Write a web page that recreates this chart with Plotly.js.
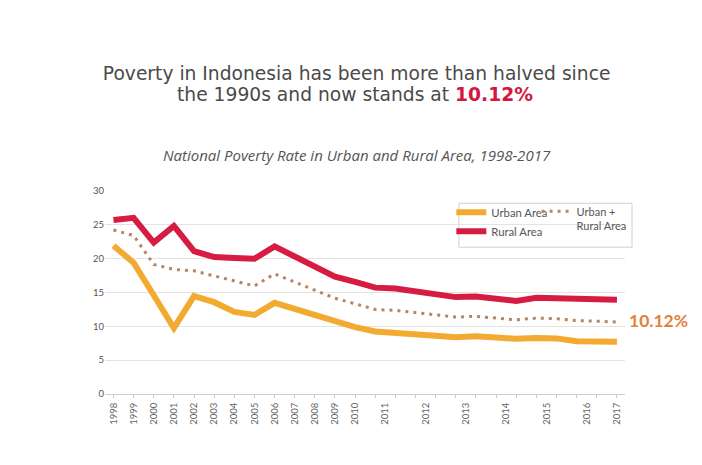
<!DOCTYPE html>
<html>
<head>
<meta charset="utf-8">
<script src="https://cdn.plot.ly/plotly-3.0.1.min.js"></script>
<style>html,body{margin:0;padding:0;background:#fff;}#chart{width:702px;height:465px;}</style>
</head>
<body>
<div id="chart"></div>
<script>
// Survey periods (annual until 2010, then March / September)
const periods = ['1998','1999','2000','2001','2002','2003','2004','2005','2006','2007','2008','2009','2010',
  'Mar 2011','Sep 2011','Mar 2012','Sep 2012','Mar 2013','Sep 2013','Mar 2014','Sep 2014',
  'Mar 2015','Sep 2015','Mar 2016','Sep 2016','Mar 2017'];
const urban = [21.92,19.41,14.60,9.76,14.46,13.57,12.13,11.68,13.47,12.52,11.65,10.72,9.87,
  9.23,9.09,8.78,8.60,8.39,8.52,8.34,8.16,8.29,8.22,7.79,7.73,7.72];
const rural = [25.72,26.03,22.38,24.84,21.10,20.23,20.11,19.98,21.81,20.37,18.93,17.35,16.56,
  15.72,15.59,15.12,14.70,14.32,14.42,14.17,13.76,14.21,14.09,14.11,13.96,13.93];
const total = [24.23,23.43,19.14,18.41,18.20,17.42,16.66,15.97,17.75,16.58,15.42,14.15,13.33,
  12.49,12.36,12.00,11.66,11.37,11.47,11.25,10.96,11.22,11.13,10.86,10.70,10.64];
const yearLabels = ['1998','1999','2000','2001','2002','2003','2004','2005','2006','2007','2008','2009','2010',
  '2011','2012','2013','2014','2015','2016','2017'];
const yTicks = [0,5,10,15,20,25,30];

const xIdx = periods.map((p, i) => i);
// tick label at the middle of the periods belonging to each year
const yearPos = yearLabels.map(y => {
  const ids = periods.map((p, i) => p.endsWith(y) ? i : -1).filter(i => i >= 0);
  return ids.reduce((a, b) => a + b, 0) / ids.length;
});

const traces = [
  {x: xIdx, y: rural, name: 'Rural Area', type: 'scatter', mode: 'lines',
   line: {color: '#d71c43', width: 6}, legend: 'legend', legendrank: 2, hoverinfo: 'skip'},
  {x: xIdx, y: urban, name: 'Urban Area', type: 'scatter', mode: 'lines',
   line: {color: '#f2aa30', width: 6}, legend: 'legend', legendrank: 1, hoverinfo: 'skip'},
  {x: xIdx, y: total, name: 'Urban +<br>Rural Area', type: 'scatter', mode: 'lines',
   line: {color: '#b9855f', width: 3, dash: '3px,5px'}, legend: 'legend2', hoverinfo: 'skip'}
];

const titleFont = {family: 'DejaVu Sans, sans-serif', size: 18.7, color: '#4a4a4a'};

const layout = {
  width: 702, height: 465,
  paper_bgcolor: '#fff', plot_bgcolor: '#fff',
  margin: {l: 105, r: 77, t: 191, b: 71},
  font: {family: 'Lato, sans-serif', color: '#555'},
  title: {
    text: 'Poverty in Indonesia has been more than halved since',
    x: 0.508, xanchor: 'center', y: 0.843, yanchor: 'middle',
    font: titleFont
  },
  xaxis: {
    range: [-0.42, 25.4], showgrid: false, zeroline: false,
    showline: true, linecolor: '#cfcfcf', linewidth: 1,
    tickmode: 'array', tickvals: yearPos, ticktext: yearLabels,
    tickangle: -90, ticks: '', ticklabelstandoff: 4,
    tickfont: {family: 'Lato, sans-serif', size: 9.5, color: '#666'},
    minor: {tickmode: 'linear', tick0: 0, dtick: 1, ticks: 'outside', ticklen: 3, tickcolor: '#c8c8c8', showgrid: false}
  },
  yaxis: {
    range: [0, 30], tickmode: 'array', tickvals: yTicks,
    showgrid: true, gridcolor: '#e3e3e3', gridwidth: 1, zeroline: false,
    ticks: '', tickfont: {family: 'Lato, sans-serif', size: 9.5, color: '#555'}
  },
  legend: {
    x: 0.666, xanchor: 'left', y: 0.967, yanchor: 'top',
    bgcolor: 'rgba(0,0,0,0)', borderwidth: 0, tracegroupgap: 0,
    font: {family: 'Lato, sans-serif', size: 11.3, color: '#555'}
  },
  legend2: {
    x: 0.83, xanchor: 'left', y: 0.967, yanchor: 'top', valign: 'top',
    bgcolor: 'rgba(0,0,0,0)', borderwidth: 0,
    font: {family: 'Lato, sans-serif', size: 11, color: '#555'}
  },
  shapes: [
    {type: 'rect', xref: 'paper', yref: 'paper', x0: 0.6805, x1: 1.0135, y0: 0.723, y1: 0.9395,
     line: {color: '#cfcfcf', width: 1}, fillcolor: 'rgba(0,0,0,0)', layer: 'below'}
  ],
  annotations: [
    {text: 'the 1990s and now stands at <b><span style="color:#d3173f">10.12%</span></b>',
     xref: 'paper', yref: 'paper', x: 0.48, y: 1.4757, xanchor: 'center', yanchor: 'middle',
     showarrow: false, font: titleFont},
    {text: '<i>National Poverty Rate in Urban and Rural Area, 1998-2017</i>',
     xref: 'paper', yref: 'paper', x: 0.485, y: 1.175, xanchor: 'center', yanchor: 'middle',
     showarrow: false, font: {family: 'Open Sans, sans-serif', size: 15, color: '#555'}},
    {text: '<b>10.12%</b>', xref: 'x', yref: 'y', x: xIdx[xIdx.length - 1], y: total[total.length - 1],
     xanchor: 'left', yanchor: 'middle', xshift: 10, yshift: 2, showarrow: false,
     font: {family: 'Lato, sans-serif', size: 17.5, color: '#e2803a'}}
  ]
};

Plotly.newPlot('chart', traces, layout, {displayModeBar: false, staticPlot: true});
</script>
</body>
</html>
